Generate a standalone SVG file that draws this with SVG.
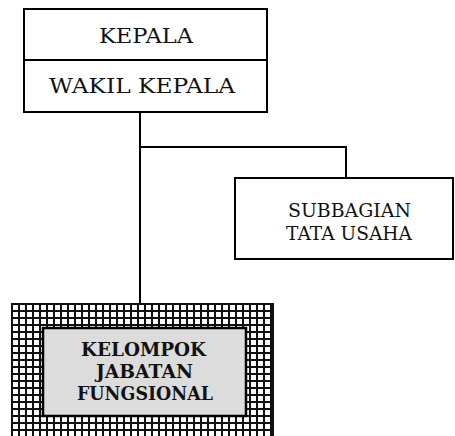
<svg xmlns="http://www.w3.org/2000/svg" width="455" height="436" viewBox="0 0 455 436">
<style>
.box{fill:#fff;stroke:#000;stroke-width:2}
.t{font-family:"DejaVu Serif","Liberation Serif",serif;font-size:20px;fill:#111}
.s{font-size:19px}
.b{font-weight:bold;font-size:18px}
.c{fill:none;stroke:#000;stroke-width:2}
</style>
<defs>
<pattern id="grid" x="11" y="303" width="7" height="7" patternUnits="userSpaceOnUse">
<rect width="7" height="7" fill="#111"/>
<rect x="2" y="2" width="5" height="5" fill="#fff"/>
</pattern>
</defs>
<g id="connectors">
<path class="c" d="M140 112V303"/>
<path class="c" d="M140 147H346V178"/>
</g>
<g id="kepala">
<rect class="box" x="24" y="9" width="243" height="51"/>
<text class="t" x="99" y="43" textLength="94" lengthAdjust="spacingAndGlyphs">KEPALA</text>
</g>
<g id="wakil">
<rect class="box" x="24" y="60" width="243" height="52"/>
<text class="t" x="49" y="93" textLength="186" lengthAdjust="spacingAndGlyphs">WAKIL KEPALA</text>
</g>
<g id="subbagian">
<rect class="box" x="235" y="178" width="218" height="81"/>
<text class="t s" x="288" y="217" textLength="123" lengthAdjust="spacingAndGlyphs">SUBBAGIAN</text>
<text class="t s" x="286" y="240" textLength="126" lengthAdjust="spacingAndGlyphs">TATA USAHA</text>
</g>
<g id="kelompok">
<rect x="12" y="304" width="261" height="140" fill="url(#grid)" stroke="#111" stroke-width="2"/>
<rect x="43" y="328" width="203" height="88" fill="#dcdcdc" stroke="#000" stroke-width="2.5"/>
<text class="t b" x="81" y="356" textLength="125" lengthAdjust="spacingAndGlyphs">KELOMPOK</text>
<text class="t b" x="96" y="378" textLength="97" lengthAdjust="spacingAndGlyphs">JABATAN</text>
<text class="t b" x="77" y="400" textLength="136" lengthAdjust="spacingAndGlyphs">FUNGSIONAL</text>
</g>
</svg>
